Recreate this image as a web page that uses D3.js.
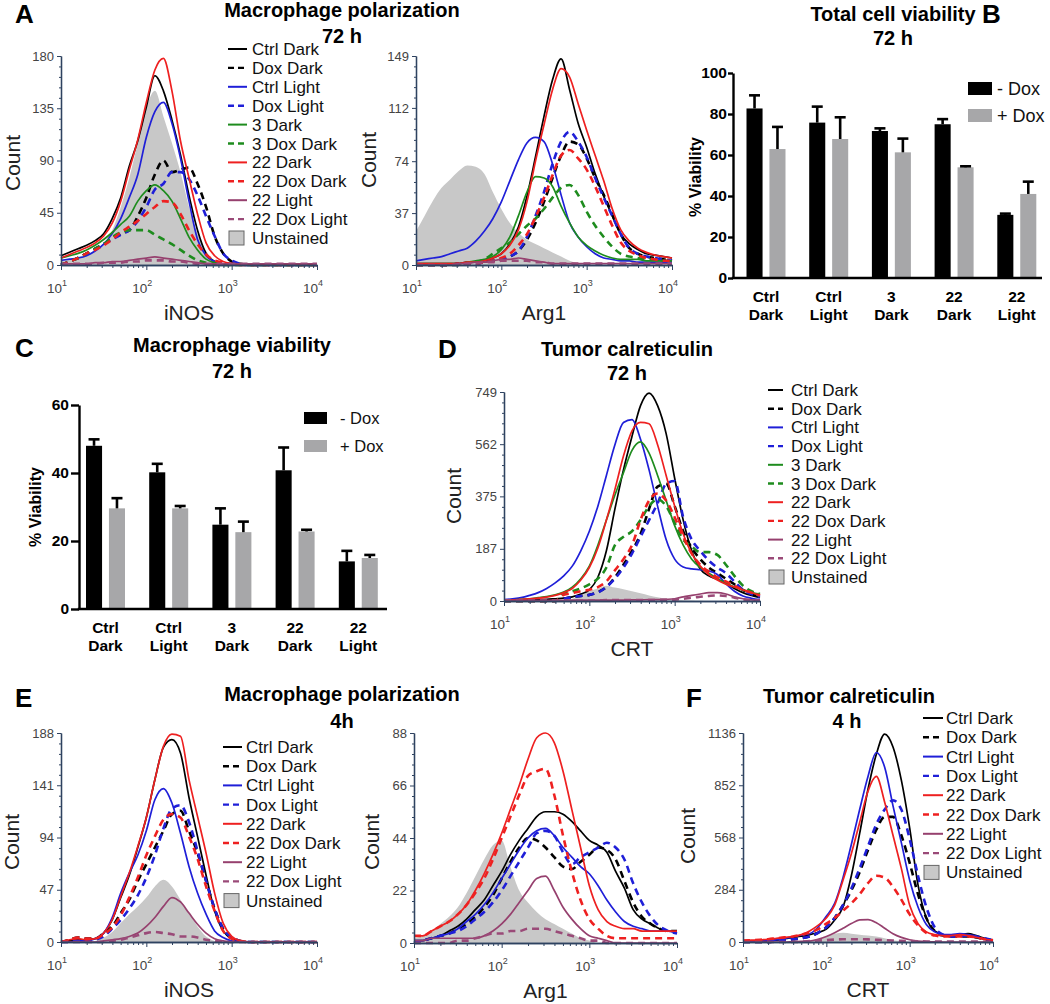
<!DOCTYPE html>
<html><head><meta charset="utf-8">
<script src="https://cdn.jsdelivr.net/npm/d3@7"></script>
<style>body{margin:0;background:#fff}svg{display:block}</style>
</head><body>
<svg id="fig" width="1050" height="1004"></svg>
<script>
// ---------------- DATA ----------------
// histogram bins: log10 of fluorescence intensity
const binExponents = [1.0,1.1,1.2,1.3,1.4,1.5,1.6,1.7,1.8,1.9,2.0,2.1,2.2,2.3,2.4,2.5,2.6,2.7,2.8,2.9,3.0,3.1,3.2,3.3,3.4,3.5,3.6,3.7,3.8,3.9,4.0];
const decadeTicks = [10,100,1000,10000];
const decadeExponents = ["1","2","3","4"];

const legend11 = ["Ctrl Dark","Dox Dark","Ctrl Light","Dox Light","3 Dark","3 Dox Dark","22 Dark","22 Dox Dark","22 Light","22 Dox Light","Unstained"];
const legend9 = ["Ctrl Dark","Dox Dark","Ctrl Light","Dox Light","22 Dark","22 Dox Dark","22 Light","22 Dox Light","Unstained"];

// A left: iNOS 72 h
const inos72Ticks = ["0","45","90","135","180"];
const inos72CtrlDark = [8,11,14,17,21,27,40,58,85,107, 136,163,150,125,95,60,30,10,3,1, 0,0,0,0,0,0,0,0,0,0,0];
const inos72DoxDark = [0,3,6,10,14,18,23,27,30,42, 58,78,90,80,82,84,70,50,25,10, 3,1,0,0,0,0,0,0,0,0,0];
const inos72CtrlLight = [4,5,6,8,12,18,27,40,58,78, 110,132,140,122,92,55,22,8,3,1, 0,0,0,0,0,0,0,0,0,0,0];
const inos72DoxLight = [0,3,6,10,14,18,22,26,30,38, 50,65,70,80,80,74,60,42,25,10, 4,1,0,0,0,0,0,0,0,0,0];
const inos723Dark = [6,8,10,13,17,22,28,35,42,55, 64,69,64,55,40,24,13,5,2,1, 0,0,0,0,0,0,0,0,0,0,0];
const inos723DoxDark = [0,3,6,10,14,18,24,28,30,30, 30,26,22,18,13,8,4,2,1,0, 0,0,0,0,0,0,0,0,0,0,0];
const inos7222Dark = [6,9,12,15,19,25,36,55,82,108, 140,168,178,150,107,75,44,19,8,3, 1,0,0,0,0,0,0,0,0,0,0];
const inos7222DoxDark = [0,3,6,10,13,17,22,28,33,38, 44,50,55,54,44,30,18,9,4,2, 1,0,0,0,0,0,0,0,0,0,0];
const inos7222Light = [1,1,1,1,2,2,3,3,4,5, 6,7,6,5,4,3,2,1,1,1, 1,1,1,1,1,1,1,1,1,1,1];
const inos7222DoxLight = [1,1,1,1,1,2,2,2,3,3, 4,4,4,3,3,2,1,1,1,1, 1,1,1,1,1,1,1,1,1,1,1];
const inos72Unstained = [4,5,7,9,13,18,30,50,75,105, 135,150,128,105,80,50,27,12,4,1, 0,0,0,0,0,0,0,0,0,0,0];

// A right: Arg1 72 h
const arg72Ticks = ["0","37","74","112","149"];
const arg72CtrlDark = [1,1,1,1,1,1,2,2,3,5, 8,15,27,49,77,106,132,147,125,101, 84,65,49,35,22,15,11,8,7,6,5];
const arg72DoxDark = [0,0,0,0,0,1,1,1,2,3, 4,6,10,18,30,45,62,78,88,86, 76,62,50,36,22,12,8,6,5,4,3];
const arg72CtrlLight = [3,4,5,6,8,10,12,17,24,33, 45,60,75,87,91,88,72,50,30,20, 13,8,5,4,3,3,2,2,2,2,2];
const arg72DoxLight = [0,0,0,0,0,1,1,1,2,3, 4,6,10,20,35,52,72,88,95,88, 77,62,48,35,22,12,8,6,5,4,3];
const arg723Dark = [1,1,1,1,1,1,2,3,4,6, 11,20,35,52,63,62,56,42,30,20, 14,10,7,5,4,4,4,3,3,3,3];
const arg723DoxDark = [0,0,0,0,0,0,1,2,4,8, 12,16,22,28,33,40,48,55,57,50, 38,28,20,13,8,6,5,4,4,3,3];
const arg7222Dark = [1,1,1,1,1,1,2,2,3,5, 8,14,25,45,74,100,125,140,134,115, 96,78,60,40,25,17,12,9,7,6,5];
const arg7222DoxDark = [0,0,0,0,0,1,1,1,2,3, 5,8,14,22,34,48,64,78,82,76, 68,56,42,28,16,10,7,5,4,3,3];
const arg7222Light = [0,0,0,0,0,1,1,2,2,3, 4,4,5,4,3,2,1,1,1,1, 1,1,1,1,1,1,1,1,1,1,1];
const arg7222DoxLight = [0,0,0,0,0,0,1,1,2,2, 3,3,3,3,2,2,1,1,1,1, 1,1,1,1,1,1,1,1,1,1,1];
const arg72Unstained = [24,35,46,55,61,67,71,70,65,52, 40,30,23,18,15,12,9,6,3,1, 0,0,0,0,0,0,0,0,0,0,0];

// D: CRT 72 h
const crt72Ticks = ["0","187","375","562","749"];
const crt72CtrlDark = [2,2,3,4,5,6,8,10,15,25, 40,85,180,330,470,590,700,745,700,600, 440,290,180,115,90,78,65,45,30,20,12];
const crt72DoxDark = [0,0,0,0,0,0,0,8,14,18, 22,32,50,85,130,180,240,330,410,420, 340,250,190,150,120,100,80,60,40,25,15];
const crt72CtrlLight = [5,8,12,20,30,45,65,90,125,180, 250,340,450,560,640,650,580,470,340,220, 150,122,115,112,108,95,62,35,18,10,5];
const crt72DoxLight = [0,0,0,0,0,0,0,8,14,18, 22,30,50,80,120,170,230,290,350,420, 430,300,220,180,145,120,100,70,40,25,15];
const crt723Dark = [3,4,6,8,12,16,22,32,50,80, 125,200,290,380,460,540,570,530,450,360, 270,200,150,120,100,80,65,50,40,30,25];
const crt723DoxDark = [0,0,0,0,0,0,0,28,35,45, 60,80,120,200,230,250,290,340,365,340, 280,220,195,175,175,165,130,90,55,35,25];
const crt7222Dark = [3,4,6,8,10,14,20,30,45,75, 120,190,290,400,520,610,640,635,560,450, 340,240,170,125,95,75,60,50,40,30,20];
const crt7222DoxDark = [0,0,0,0,0,0,0,22,28,35, 40,50,70,110,150,200,290,360,385,360, 300,230,170,130,105,85,70,55,40,30,20];
const crt7222Light = [2,2,2,2,2,2,2,2,3,3, 3,3,3,3,3,4,4,5,5,6, 8,15,20,25,30,30,25,15,8,4,2];
const crt7222DoxLight = [2,2,2,2,2,2,2,2,2,2, 2,2,3,3,3,3,3,3,4,4, 5,8,12,15,18,20,18,12,6,3,2];
const crt72Unstained = [0,0,0,0,0,0,0,3,8,20, 35,45,55,48,42,35,28,20,13,8, 5,3,2,1,0,0,0,0,0,0,0];

// E left: iNOS 4 h
const inos4Ticks = ["0","47","94","141","188"];
const inos4CtrlDark = [0,1,2,2,3,8,20,40,60,85, 112,146,175,182,170,130,95,60,28,10, 3,1,0,0,0,0,0,0,0,0,0];
const inos4DoxDark = [0,2,4,3,3,8,14,26,38,55, 70,85,100,115,118,100,80,55,30,12, 4,1,0,0,0,0,0,0,0,0,0];
const inos4CtrlLight = [0,0,1,1,3,8,22,44,62,78, 100,128,138,125,98,68,44,25,10,4, 1,0,0,0,0,0,0,0,0,0,0];
const inos4DoxLight = [0,0,1,1,2,5,12,20,30,42, 58,78,102,120,123,108,82,55,30,12, 4,1,0,0,0,0,0,0,0,0,0];
const inos422Dark = [0,2,3,2,3,8,20,41,62,86, 112,146,176,187,185,146,113,80,44,17, 5,1,0,0,0,0,0,0,0,0,0];
const inos422DoxDark = [0,2,4,3,3,7,13,24,40,58, 78,95,110,115,112,95,75,50,28,10, 3,1,0,0,0,0,0,0,0,0,0];
const inos422Light = [0,0,0,0,0,1,2,3,5,8, 14,22,32,40,36,26,16,8,3,1, 0,0,0,0,0,0,0,0,0,0,0];
const inos422DoxLight = [0,0,0,0,0,0,1,2,4,6, 8,9,8,7,5,5,4,2,1,0, 0,0,0,0,0,0,0,0,0,0,0];
const inos4Unstained = [0,0,0,0,1,4,9,17,25,32, 40,50,56,50,38,26,14,5,1,0, 0,0,0,0,0,0,0,0,0,0,0];

// E right: Arg1 4 h
const arg4Ticks = ["0","22","44","66","88"];
const arg4CtrlDark = [1,1,2,3,5,7,10,14,18,24, 30,37,43,48,53,55,55,54,51,47, 43,41,38,30,23,14,10,8,6,5,5];
const arg4DoxDark = [0,1,2,3,4,6,8,11,15,20, 27,34,40,44,43,40,36,32,31,34, 37,40,39,35,26,17,11,8,6,5,5];
const arg4CtrlLight = [1,1,2,3,4,6,9,12,16,21, 27,33,39,44,47,48,45,40,36,32, 29,24,18,13,9,7,6,5,5,5,4];
const arg4DoxLight = [0,1,2,3,4,5,7,10,13,17, 22,28,34,40,46,47,45,38,33,36, 38,40,42,40,35,25,17,11,7,5,4];
const arg422Dark = [3,3,5,7,9,12,16,22,29,37, 46,56,66,77,86,88,84,72,56,40, 24,14,9,7,6,6,5,5,5,5,5];
const arg422DoxDark = [3,3,5,7,9,12,16,21,27,35, 44,53,62,70,72,73,62,45,30,18, 10,6,3,2,2,2,2,2,2,2,2];
const arg422Light = [1,1,2,2,2,2,2,2,3,5, 8,12,17,22,27,28,22,15,10,6, 3,2,1,0,0,0,0,0,0,0,0];
const arg422DoxLight = [0,0,0,0,0,1,1,2,3,4, 4,5,5,6,6,6,5,4,3,2, 1,1,0,0,0,0,0,0,0,0,0];
const arg4Unstained = [2,3,5,8,11,15,21,28,35,41, 43,32,22,17,13,10,8,6,4,2, 1,0,0,0,0,0,0,0,0,0,0];

// F: CRT 4 h
const crt4Ticks = ["0","284","568","852","1136"];
const crt4CtrlDark = [0,1,3,6,10,18,25,32,40,52, 70,120,190,360,590,830,1020,1130,1060,880, 620,310,130,60,40,35,40,45,35,20,10];
const crt4DoxDark = [0,0,0,0,5,10,15,20,30,50, 80,130,200,280,380,500,610,680,680,580, 430,260,130,60,35,30,30,30,25,15,8];
const crt4CtrlLight = [0,1,3,8,12,20,28,38,45,80, 140,210,350,530,720,900,1030,950,740,540, 336,190,95,55,40,40,45,40,30,15,5];
const crt4DoxLight = [0,0,0,0,5,10,15,20,30,50, 80,130,200,290,400,520,640,720,770,720, 560,360,190,80,40,30,30,35,30,20,10];
const crt422Dark = [8,10,12,15,20,25,30,40,60,90, 130,200,336,480,650,820,900,760,580,400, 200,100,55,40,35,35,40,35,25,15,10];
const crt422DoxDark = [8,10,12,15,20,25,30,40,50,70, 100,130,170,210,260,320,360,350,300,230, 150,90,50,35,30,30,30,30,25,15,10];
const crt422Light = [0,0,0,0,0,0,2,3,5,15, 30,50,75,100,120,122,105,75,45,25, 12,5,2,1,0,0,0,0,0,0,0];
const crt422DoxLight = [0,0,0,0,0,0,0,2,5,8, 10,13,15,15,15,14,12,10,8,6, 5,4,3,3,3,3,3,3,2,1,0];
const crt4Unstained = [0,0,0,0,0,0,0,2,5,15, 30,45,50,45,40,35,30,20,10,5, 2,0,0,0,0,0,0,0,0,0,0];

// Bar charts
const barCatLine1 = ["Ctrl","Ctrl","3","22","22"];
const barCatLine2 = ["Dark","Light","Dark","Dark","Light"];
const barSeries = ["- Dox","+ Dox"];
const totalTicks = [0,20,40,60,80,100];
const totalMinusDox = [82.7,75.8,71.7,75.0,30.8];
const totalMinusDoxErr = [6.4,7.8,1.3,2.5,0.6];
const totalPlusDox = [62.9,67.8,61.3,54.0,41.0];
const totalPlusDoxErr = [10.8,10.6,6.7,0.5,6.0];
const macroTicks = [0,20,40,60];
const macroMinusDox = [48.0,40.2,24.8,40.8,14.0];
const macroMinusDoxErr = [1.9,2.5,4.8,6.7,3.1];
const macroPlusDox = [29.6,29.6,22.6,22.8,15.0];
const macroPlusDoxErr = [3.0,0.7,3.1,0.5,0.9];

// ---------------- DRAWING ----------------
const svg = d3.select("#fig");
const FONT = "'Liberation Sans', Arial, Helvetica, sans-serif";
const AXIS_COLOR = "#2e4260";
const GRAY_FILL = "#c8c8c8";
const seriesStyle = {
  "Ctrl Dark":{color:"#000000",dashed:false},
  "Dox Dark":{color:"#000000",dashed:true},
  "Ctrl Light":{color:"#1f1fd8",dashed:false},
  "Dox Light":{color:"#1f1fd8",dashed:true},
  "3 Dark":{color:"#1e8c1e",dashed:false},
  "3 Dox Dark":{color:"#1e8c1e",dashed:true},
  "22 Dark":{color:"#ee2020",dashed:false},
  "22 Dox Dark":{color:"#ee2020",dashed:true},
  "22 Light":{color:"#96406e",dashed:false},
  "22 Dox Light":{color:"#9a4a78",dashed:true}
};

function addText(x, y, str, o = {}) {
  const t = svg.append("text").attr("x", x).attr("y", y).text(str)
    .attr("font-family", FONT).attr("font-size", o.size || 16)
    .attr("font-weight", o.weight || "normal")
    .attr("text-anchor", o.anchor || "start").attr("fill", o.fill || "#000");
  if (o.rotate) t.attr("transform", `rotate(${o.rotate},${x},${y})`);
  return t;
}

function drawHist(cfg) {
  const x = d3.scaleLog().domain([10, 10000]).range([cfg.x0, cfg.x1]);
  const y = d3.scaleLinear().domain([0, cfg.yMax]).range([cfg.y0, cfg.y1]);
  const g = svg.append("g");
  const px = i => x(Math.pow(10, binExponents[i]));
  cfg.series.filter(s => s[0] === "Unstained").forEach(s => {
    g.append("path").datum(s[1])
      .attr("d", d3.area().x((d, i) => px(i)).y0(y(0)).y1(d => y(d)).curve(d3.curveMonotoneX))
      .attr("fill", GRAY_FILL);
  });
  cfg.series.filter(s => s[0] !== "Unstained").forEach(([name, vals]) => {
    const st = seriesStyle[name];
    g.append("path").datum(vals)
      .attr("d", d3.line().x((d, i) => px(i)).y(d => y(d)).curve(d3.curveMonotoneX))
      .attr("fill", "none").attr("stroke", st.color)
      .attr("stroke-width", st.dashed ? 2.6 : 1.7)
      .attr("stroke-dasharray", st.dashed ? "7,5" : null)
      .attr("stroke-linejoin", "round");
  });
  // y axis
  const majors = cfg.yTicks.map(Number);
  const minors = [];
  for (let k = 0; k < majors.length - 1; k++) {
    for (let m = 1; m < 5; m++) minors.push(majors[k] + (majors[k + 1] - majors[k]) * m / 5);
  }
  const gyMinor = g.append("g").attr("transform", `translate(${cfg.x0},0)`)
    .call(d3.axisLeft(y).tickValues(minors).tickFormat("").tickSize(2).tickSizeOuter(0));
  const gy = g.append("g").attr("transform", `translate(${cfg.x0},0)`)
    .call(d3.axisLeft(y).tickValues(majors).tickFormat((d, i) => cfg.yTicks[i]).tickSize(4).tickSizeOuter(0).tickPadding(3));
  // x axis
  const xMinors = [];
  [10, 100, 1000].forEach(b => { for (let m = 2; m <= 9; m++) xMinors.push(b * m); });
  const gxMinor = g.append("g").attr("transform", `translate(0,${cfg.y0})`)
    .call(d3.axisBottom(x).tickValues(xMinors).tickFormat("").tickSize(3).tickSizeOuter(0));
  const gx = g.append("g").attr("transform", `translate(0,${cfg.y0})`)
    .call(d3.axisBottom(x).tickValues(decadeTicks).tickFormat("").tickSize(5).tickSizeOuter(0));
  [gyMinor, gy, gxMinor, gx].forEach(a => {
    a.selectAll(".domain").attr("stroke", AXIS_COLOR).attr("stroke-width", 1.3);
    a.selectAll(".tick line").attr("stroke", AXIS_COLOR);
    a.selectAll("text").attr("font-family", FONT).attr("font-size", 13).attr("fill", "#444");
  });
  decadeTicks.forEach((v, i) => {
    const t = svg.append("text").attr("x", x(v) - 4).attr("y", cfg.y0 + 28)
      .attr("text-anchor", "middle").attr("font-family", FONT).attr("font-size", 13.5).attr("fill", "#444");
    t.append("tspan").text("10");
    t.append("tspan").attr("dy", -7).attr("font-size", 9).text(decadeExponents[i]);
  });
  addText((cfg.x0 + cfg.x1) / 2, cfg.y0 + 55, cfg.xTitle, {size: 21, anchor: "middle", fill: "#222"});
  addText(cfg.countX + 7.5, cfg.countY, "Count", {size: 21, anchor: "middle", fill: "#222", rotate: -90});
  if (cfg.legend) {
    const L = cfg.legend;
    cfg.series.forEach(([name], i) => {
      const cy = L.y + i * L.dy;
      if (name === "Unstained") {
        svg.append("rect").attr("x", L.x + 1).attr("y", cy - 7).attr("width", 15).attr("height", 14)
          .attr("fill", GRAY_FILL).attr("stroke", "#666").attr("stroke-width", 1);
      } else {
        const st = seriesStyle[name];
        svg.append("line").attr("x1", L.x).attr("x2", L.x + L.len).attr("y1", cy).attr("y2", cy)
          .attr("stroke", st.color).attr("stroke-width", st.dashed ? 2.4 : 2)
          .attr("stroke-dasharray", st.dashed ? "6,4" : null);
      }
      addText(L.x + L.len + L.gap, cy + 6, name, {size: 17, fill: "#111"});
    });
  }
}

function drawBars(cfg) {
  const y = d3.scaleLinear().domain([0, cfg.yMax]).range([cfg.y0, cfg.y1]);
  const n = barCatLine1.length;
  const xb = d3.scaleBand().domain(d3.range(n)).range([cfg.bandStart, cfg.bandStart + cfg.step * n]).padding(0);
  const xs = d3.scaleBand().domain([0, 1]).range([-19.5, 19.5]).paddingInner(0.3);
  const colors = ["#000000", "#a7a7a9"];
  const g = svg.append("g");
  cfg.values.forEach((vals, s) => {
    vals.forEach((v, i) => {
      const cx = xb(i) + xb.bandwidth() / 2 + xs(s);
      g.append("rect").attr("x", cx).attr("y", y(v)).attr("width", xs.bandwidth())
        .attr("height", cfg.y0 - y(v)).attr("fill", colors[s]);
      const mid = cx + xs.bandwidth() / 2;
      const top = y(v + cfg.errors[s][i]);
      g.append("line").attr("x1", mid).attr("x2", mid).attr("y1", y(v)).attr("y2", top)
        .attr("stroke", "#000").attr("stroke-width", 2.6);
      g.append("line").attr("x1", mid - 5.5).attr("x2", mid + 5.5).attr("y1", top).attr("y2", top)
        .attr("stroke", "#000").attr("stroke-width", 2.6);
    });
  });
  const gy = g.append("g").attr("transform", `translate(${cfg.axisX},0)`)
    .call(d3.axisLeft(y).tickValues(cfg.ticks).tickSize(cfg.tickLen).tickSizeOuter(0).tickPadding(cfg.tickPad));
  gy.selectAll(".domain").attr("stroke", "#000").attr("stroke-width", 2.4);
  gy.selectAll(".tick line").attr("stroke", "#000").attr("stroke-width", 2.4);
  gy.selectAll("text").attr("font-family", FONT).attr("font-size", 15.5).attr("font-weight", "bold").attr("fill", "#000");
  g.append("line").attr("x1", cfg.axisX - 1.2).attr("x2", cfg.axisEnd).attr("y1", cfg.y0).attr("y2", cfg.y0)
    .attr("stroke", "#000").attr("stroke-width", 2.6);
  d3.range(n).forEach(i => {
    const cx = xb(i) + xb.bandwidth() / 2;
    addText(cx, cfg.y0 + 24, barCatLine1[i], {size: 15.5, weight: "bold", anchor: "middle"});
    addText(cx, cfg.y0 + 42, barCatLine2[i], {size: 15.5, weight: "bold", anchor: "middle"});
  });
  addText(cfg.ylabX + 6, cfg.ylabY, "% Viability", {size: 16, weight: "bold", anchor: "middle", rotate: -90});
  const L = cfg.legend;
  barSeries.forEach((name, s) => {
    svg.append("rect").attr("x", L.x).attr("y", L.y + s * L.dy).attr("width", L.w).attr("height", L.h).attr("fill", colors[s]);
    addText(L.textX, L.y + s * L.dy + L.h, name, {size: L.size, fill: "#111"});
  });
}

// Titles and panel letters
addText(15, 23, "A", {size: 26, weight: "bold"});
addText(342, 17, "Macrophage polarization", {size: 20, weight: "bold", anchor: "middle"});
addText(342, 43, "72 h", {size: 20, weight: "bold", anchor: "middle"});
addText(982, 23, "B", {size: 26, weight: "bold"});
addText(893, 21, "Total cell viability", {size: 20, weight: "bold", anchor: "middle"});
addText(893, 45, "72 h", {size: 20, weight: "bold", anchor: "middle"});
addText(15, 357, "C", {size: 26, weight: "bold"});
addText(232, 352, "Macrophage viability", {size: 20, weight: "bold", anchor: "middle"});
addText(232, 378, "72 h", {size: 20, weight: "bold", anchor: "middle"});
addText(438, 358, "D", {size: 26, weight: "bold"});
addText(627, 356, "Tumor calreticulin", {size: 20, weight: "bold", anchor: "middle"});
addText(627, 380, "72 h", {size: 20, weight: "bold", anchor: "middle"});
addText(15, 707, "E", {size: 26, weight: "bold"});
addText(342, 701, "Macrophage polarization", {size: 20, weight: "bold", anchor: "middle"});
addText(342, 728, "4h", {size: 20, weight: "bold", anchor: "middle"});
addText(686, 707, "F", {size: 26, weight: "bold"});
addText(849, 703, "Tumor calreticulin", {size: 20, weight: "bold", anchor: "middle"});
addText(847, 728, "4 h", {size: 20, weight: "bold", anchor: "middle"});

const series11 = (arrs) => legend11.map((n, i) => [n, arrs[i]]);
const series9 = (arrs) => legend9.map((n, i) => [n, arrs[i]]);

drawHist({x0: 61, x1: 317, y0: 265, y1: 56, yMax: 180, yTicks: inos72Ticks, xTitle: "iNOS", countX: 12, countY: 163,
  series: series11([inos72CtrlDark, inos72DoxDark, inos72CtrlLight, inos72DoxLight, inos723Dark, inos723DoxDark, inos7222Dark, inos7222DoxDark, inos7222Light, inos7222DoxLight, inos72Unstained]),
  legend: {x: 228, y: 49, len: 19, gap: 5, dy: 18.9}});
drawHist({x0: 416, x1: 672, y0: 265, y1: 56, yMax: 149, yTicks: arg72Ticks, xTitle: "Arg1", countX: 368, countY: 160,
  series: series11([arg72CtrlDark, arg72DoxDark, arg72CtrlLight, arg72DoxLight, arg723Dark, arg723DoxDark, arg7222Dark, arg7222DoxDark, arg7222Light, arg7222DoxLight, arg72Unstained])});
drawHist({x0: 504, x1: 760, y0: 601, y1: 392, yMax: 749, yTicks: crt72Ticks, xTitle: "CRT", countX: 453, countY: 496,
  series: series11([crt72CtrlDark, crt72DoxDark, crt72CtrlLight, crt72DoxLight, crt723Dark, crt723DoxDark, crt7222Dark, crt7222DoxDark, crt7222Light, crt7222DoxLight, crt72Unstained]),
  legend: {x: 768, y: 390, len: 15, gap: 8, dy: 18.7}});
drawHist({x0: 61, x1: 317, y0: 942, y1: 733, yMax: 188, yTicks: inos4Ticks, xTitle: "iNOS", countX: 11, countY: 842,
  series: series9([inos4CtrlDark, inos4DoxDark, inos4CtrlLight, inos4DoxLight, inos422Dark, inos422DoxDark, inos422Light, inos422DoxLight, inos4Unstained]),
  legend: {x: 223, y: 747, len: 19, gap: 4, dy: 19.2}});
drawHist({x0: 414, x1: 677, y0: 943, y1: 733, yMax: 88, yTicks: arg4Ticks, xTitle: "Arg1", countX: 371, countY: 842,
  series: series9([arg4CtrlDark, arg4DoxDark, arg4CtrlLight, arg4DoxLight, arg422Dark, arg422DoxDark, arg422Light, arg422DoxLight, arg4Unstained])});
drawHist({x0: 743, x1: 993, y0: 942, y1: 733, yMax: 1136, yTicks: crt4Ticks, xTitle: "CRT", countX: 687, countY: 836,
  series: series9([crt4CtrlDark, crt4DoxDark, crt4CtrlLight, crt4DoxLight, crt422Dark, crt422DoxDark, crt422Light, crt422DoxLight, crt4Unstained]),
  legend: {x: 923, y: 718, len: 20, gap: 3, dy: 19.3}});

drawBars({y0: 278, y1: 73, yMax: 100, ticks: totalTicks, axisX: 733, axisEnd: 1042, bandStart: 734.65, step: 62.7,
  tickLen: 5, tickPad: 1, values: [totalMinusDox, totalPlusDox], errors: [totalMinusDoxErr, totalPlusDoxErr],
  ylabX: 695, ylabY: 177, legend: {x: 968, y: 82, w: 24, h: 13, dy: 27, textX: 997, size: 18}});
drawBars({y0: 609, y1: 405, yMax: 60, ticks: macroTicks, axisX: 79, axisEnd: 387, bandStart: 73.9, step: 63.2,
  tickLen: 8, tickPad: 2, values: [macroMinusDox, macroPlusDox], errors: [macroMinusDoxErr, macroPlusDoxErr],
  ylabX: 35, ylabY: 507, legend: {x: 304, y: 412, w: 23, h: 12, dy: 28, textX: 340, size: 16.5}});
</script>
</body></html>
